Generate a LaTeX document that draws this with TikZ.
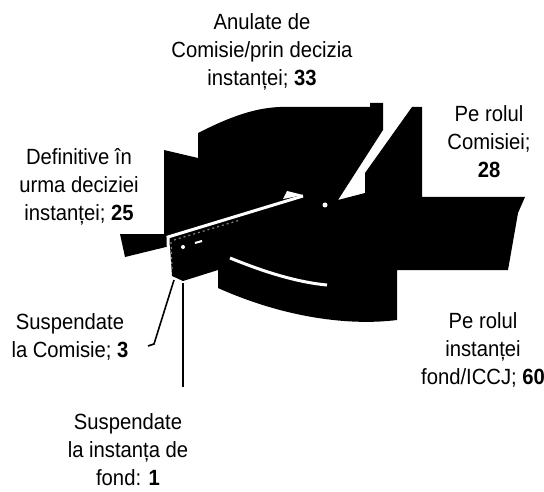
\documentclass[tikz,border=0pt]{standalone}
\usepackage{fontspec}
\newfontfamily\chartfont{Liberation Sans}[FakeStretch=0.92]
\usetikzlibrary{positioning}

\begin{document}
\begin{tikzpicture}[x=0.5pt, y=-0.5pt, font=\chartfont\fontsize{11}{14}\selectfont,
    lbl/.style={align=center, inner sep=0pt},
    sliceedge/.style={white, line width=1.5pt},
    leader/.style={black, line width=0.8pt}]
    \useasboundingbox (0,0) rectangle (544,491);
    % pie body
    \fill[black] (164,150) -- (198,158) -- (198,133) .. controls (222,121) and (250,108) .. (280,107)
        -- (370,107) -- (370,103) -- (383,103) -- (383,130) -- (338,200) -- (365,193) -- (365,173)
        -- (412,107) -- (422,107) -- (422,197) -- (525,197) -- (518,213) -- (508,270) -- (397,270)
        -- (397,320) .. controls (350,326) and (285,318) .. (218,288) -- (218,270) -- (183,281)
        -- (172,276) -- (170,246) -- (125,257) -- (120,234) -- (164,234) -- cycle;
    % slice edges
    \draw[sliceedge] (169,272) -- (168,237) -- (303,196);
    \draw[gray, line width=0.6pt, dash pattern=on 1pt off 1.5pt] (174,240) -- (240,220);
    \draw[gray, line width=0.6pt, dash pattern=on 1pt off 1.5pt] (171,242) -- (172,270);
    \fill[white] (283,199) -- (287,191) -- (303,195) -- cycle;
    \fill[white] (325,205) circle (2.5);
    \draw[white, line width=1pt] (195,243) -- (202,241);
    \fill[white] (183,247) circle (2);
    \draw[white, line width=1.5pt] (230,258) .. controls (262,271) and (295,282) .. (327,285);
    % labels
    \node[lbl] (anulate) at (262,52) {Anulate de\\Comisie/prin decizia\\instanței; \textbf{33}};
    \node[lbl] (comisie) at (489,142) {Pe rolul\\Comisiei;\\\textbf{28}};
    \node[lbl] (definitive) at (79,187) {Definitive în\\urma deciziei\\instanței; \textbf{25}};
    \node[lbl] (fond) at (483,350) {Pe rolul\\instanței\\fond/ICCJ; \textbf{60}};
    \node[lbl] (suspCom) at (70,337) {Suspendate\\la Comisie; \textbf{3}};
    \node[lbl] (suspFond) at (128,450) {Suspendate\\la instanța de\\fond: \textbf{1}};
    % leader lines
    \coordinate (tipCom) at (174,280);
    \coordinate (hookCom) at (148,346);
    \coordinate (tipFond) at (183,283);
    \coordinate (endFond) at (183,387);
    \draw[leader] (hookCom) -- ++(6,-2) -- (tipCom);
    \draw[leader] (endFond) -- (tipFond);
\end{tikzpicture}
\end{document}
